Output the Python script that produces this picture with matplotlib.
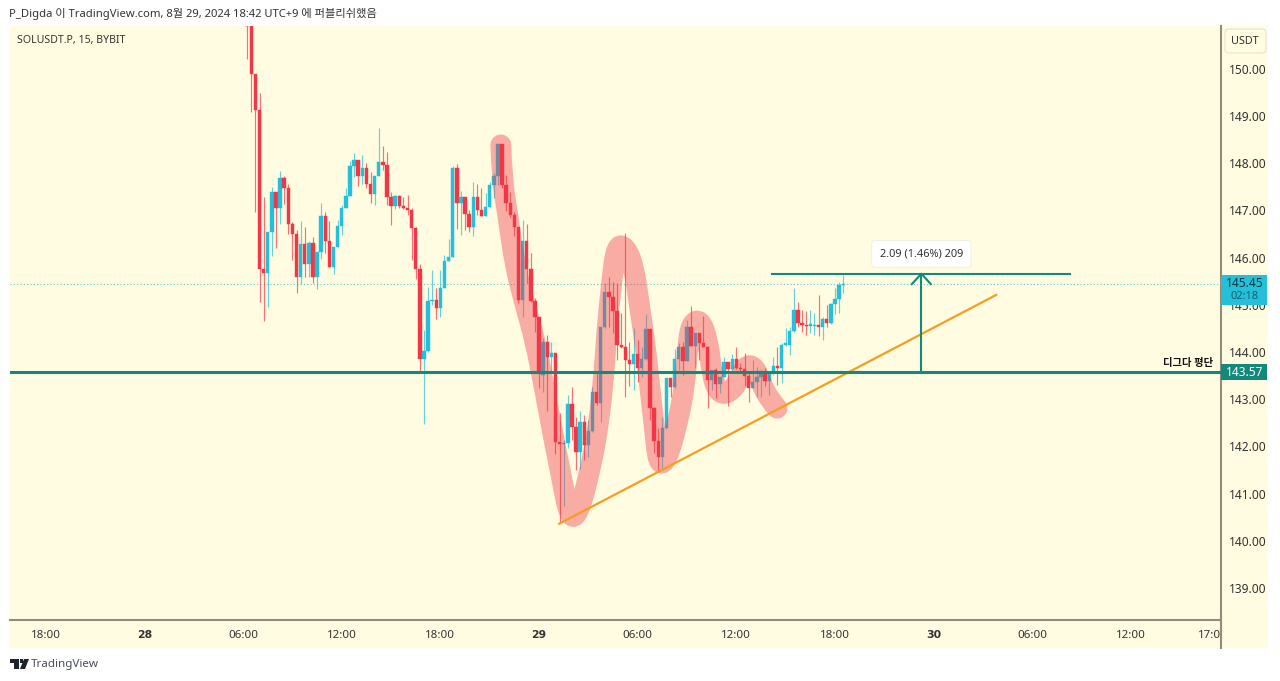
import matplotlib
matplotlib.use("Agg")
import matplotlib.pyplot as plt
from matplotlib.patches import Rectangle, Polygon, FancyBboxPatch, PathPatch
from matplotlib.path import Path
from matplotlib.lines import Line2D
from matplotlib.transforms import Bbox

plt.rcParams['font.family'] = ['Noto Sans', 'Noto Sans CJK KR', 'DejaVu Sans']

# 15 minute bars, bar 0 = 28th 00:00
first_bar = 25
opens = [150.95, 150.90, 149.89, 149.13, 145.76, 145.68, 146.54, 147.39, 147.05, 147.69, 147.47, 146.71, 146.50,
         145.60, 146.28, 145.86, 146.32, 145.60, 146.12, 146.89, 146.36, 145.81, 146.22, 146.67, 147.05, 147.30,
         147.94, 148.07, 147.74, 147.90, 147.56, 147.35, 147.74, 148.03, 147.97, 147.29, 147.09, 147.30, 147.09,
         147.05, 147.02, 146.63, 145.75, 143.85, 144.02, 145.08, 145.11, 144.93, 145.35, 145.93, 146.02, 147.91,
         147.15, 147.28, 146.93, 146.66, 147.28, 147.01, 146.89, 147.08, 147.53, 147.74, 148.40, 147.53, 147.15,
         146.91, 146.64, 145.10, 146.35, 145.76, 145.08, 144.74, 143.51, 144.22, 143.90, 143.98, 142.10, 142.06,
         142.08, 142.89, 142.42, 141.89, 142.51, 142.02, 142.33, 143.16, 142.91, 144.52, 145.28, 145.16, 144.86,
         144.15, 144.11, 143.83, 143.75, 143.96, 143.66, 143.85, 144.48, 142.81, 142.11, 141.77, 142.38, 143.44,
         143.25, 143.85, 144.11, 143.82, 144.52, 144.13, 144.40, 144.20, 144.11, 143.41, 143.61, 143.32, 143.46,
         143.78, 143.63, 143.85, 143.67, 143.63, 143.49, 143.23, 143.36, 143.48, 143.55, 143.39, 143.56, 143.71,
         143.67, 144.15, 144.15, 144.45, 144.89, 144.62, 144.58, 144.56, 144.56, 144.58, 144.52, 144.70, 144.61,
         145.02, 145.13, 145.42]
closes = [150.90, 149.89, 149.13, 145.76, 145.68, 146.54, 147.39, 147.05, 147.69, 147.47, 146.71, 146.50, 145.60,
          146.28, 145.86, 146.32, 145.60, 146.12, 146.89, 146.36, 145.81, 146.22, 146.67, 147.05, 147.30, 147.94,
          148.07, 147.74, 147.90, 147.56, 147.35, 147.74, 148.03, 147.97, 147.29, 147.09, 147.30, 147.09, 147.05,
          147.02, 146.63, 145.75, 143.85, 144.02, 145.08, 145.11, 144.93, 145.35, 145.93, 146.02, 147.91, 147.15,
          147.28, 146.93, 146.66, 147.28, 147.01, 146.89, 147.08, 147.53, 147.74, 148.40, 147.53, 147.15, 146.91,
          146.64, 145.10, 146.35, 145.76, 145.08, 144.74, 143.58, 144.22, 143.90, 143.98, 142.10, 142.06, 142.08,
          142.89, 142.42, 141.89, 142.51, 142.02, 142.33, 143.16, 142.91, 144.52, 145.28, 145.16, 144.86, 144.15,
          144.11, 143.83, 143.75, 143.96, 143.66, 143.85, 144.48, 142.81, 142.11, 141.77, 142.38, 143.44, 143.25,
          143.85, 144.11, 143.82, 144.52, 144.13, 144.40, 144.20, 144.11, 143.41, 143.61, 143.32, 143.46, 143.78,
          143.63, 143.85, 143.67, 143.63, 143.49, 143.23, 143.36, 143.48, 143.60, 143.39, 143.56, 143.71, 143.67,
          144.15, 144.19, 144.45, 144.89, 144.62, 144.58, 144.56, 144.59, 144.58, 144.52, 144.70, 144.61, 145.02,
          145.13, 145.42, 145.45]
highs = [151.20, 151.00, 149.89, 149.48, 147.29, 146.54, 147.49, 147.39, 147.83, 147.73, 147.57, 146.76, 146.58,
         146.77, 146.64, 146.35, 146.44, 146.12, 147.16, 146.96, 146.78, 146.22, 146.80, 147.11, 147.47, 148.05,
         148.21, 148.07, 148.17, 148.00, 147.82, 147.74, 148.74, 148.37, 148.23, 147.40, 147.32, 147.32, 147.29,
         147.32, 147.06, 146.66, 145.86, 144.46, 145.38, 145.74, 145.35, 145.74, 146.06, 146.39, 147.94, 147.99,
         147.42, 147.28, 147.01, 147.61, 147.56, 147.47, 147.36, 147.60, 147.80, 148.40, 148.40, 147.75, 147.40,
         146.96, 146.66, 146.80, 146.71, 146.09, 145.14, 144.74, 144.29, 144.36, 144.22, 143.98, 142.70, 142.14,
         143.09, 143.25, 142.63, 142.74, 142.66, 142.56, 143.26, 143.58, 144.54, 145.46, 145.60, 145.49, 145.46,
         144.82, 146.52, 144.22, 144.50, 144.26, 144.11, 144.80, 144.49, 142.84, 142.38, 142.63, 143.44, 143.44,
         144.06, 144.19, 144.22, 144.68, 144.98, 144.40, 144.40, 144.76, 144.13, 143.61, 143.66, 143.48, 143.90,
         143.78, 143.95, 144.11, 143.76, 143.97, 143.58, 143.83, 143.69, 143.62, 143.66, 143.58, 143.90, 144.11,
         144.19, 144.50, 144.52, 145.35, 145.07, 144.89, 144.86, 144.89, 144.82, 145.21, 144.75, 145.00, 145.03,
         145.35, 145.48, 145.63]
lows = [150.22, 149.08, 146.96, 145.05, 144.65, 144.96, 146.03, 146.20, 146.71, 147.13, 146.50, 145.96, 145.26,
        145.45, 145.59, 145.59, 145.47, 145.33, 145.98, 146.10, 145.81, 145.66, 146.22, 146.48, 147.05, 147.30,
        147.71, 147.52, 147.56, 147.47, 147.16, 147.11, 147.74, 147.86, 147.11, 146.70, 147.04, 147.06, 147.03,
        146.90, 145.95, 145.54, 143.58, 142.48, 144.00, 144.99, 144.71, 144.75, 145.35, 145.93, 146.02, 146.60,
        146.47, 146.59, 146.55, 146.46, 146.91, 146.89, 146.89, 147.08, 147.26, 147.54, 147.47, 146.98, 146.87,
        146.45, 145.03, 144.75, 145.46, 145.07, 144.43, 143.23, 143.16, 142.74, 143.55, 141.83, 140.37, 140.74,
        141.96, 142.14, 141.50, 141.53, 141.71, 141.78, 142.31, 142.87, 142.52, 144.50, 144.54, 144.40, 143.83,
        144.08, 143.05, 143.27, 143.20, 143.36, 143.48, 143.83, 142.56, 141.85, 141.46, 141.50, 142.36, 143.04,
        143.23, 143.62, 143.51, 143.80, 144.12, 143.67, 143.83, 144.11, 142.82, 143.20, 143.02, 143.13, 143.46,
        142.86, 143.62, 143.65, 143.55, 143.27, 142.95, 143.23, 143.05, 143.05, 143.27, 143.09, 143.51, 143.30,
        143.34, 144.13, 143.94, 144.43, 144.54, 144.43, 144.36, 144.40, 144.36, 144.33, 144.26, 144.54, 144.59,
        144.81, 144.82, 145.25]

# pink highlighter stroke over the chart
stroke_bars = [86.7, 87.0, 88.4, 90.1, 92.6, 95.0, 97.4, 99.4, 101.6, 103.0, 104.5, 106.4, 108.4, 110.1, 111.6,
               112.5, 113.7, 114.8, 116.9, 119.0, 120.6, 122.0, 123.0, 124.0, 125.0, 127.1, 129.6, 131.5, 132.2,
               133.0, 135.2, 137.1, 138.1, 139.5, 141.7, 144.4, 146.1, 148.5, 150.2, 152.2, 153.9]
stroke_prices = [148.39, 147.65, 146.91, 145.85, 145.00, 144.26, 143.20, 142.24, 141.29, 140.65, 140.45, 140.80,
                 141.50, 142.24, 143.30, 144.47, 145.53, 146.25, 146.25, 145.85, 144.89, 144.04, 143.20, 142.45,
                 141.60, 141.70, 142.45, 143.30, 144.15, 144.60, 144.70, 144.25, 143.51, 143.15, 143.10, 143.34,
                 143.72, 143.70, 143.30, 142.98, 142.81]

trend_bars = [100.9, 207.2]
trend_prices = [140.36, 145.21]

avg_price = 143.57
last_price = 145.45
target_price = 145.66
measure_bars = [152.7, 225.2]
arrow_bar = 189
head_bars = [186.7, 189, 191.3]
head_prices = [145.44, 145.66, 145.44]

x_ticks = [-24, 0, 24, 48, 72, 96, 120, 144, 168, 192, 216, 240, 260]
x_labels = ['18:00', '28', '06:00', '12:00', '18:00', '29', '06:00', '12:00', '18:00', '30', '06:00', '12:00', '17:00']
y_ticks = [139, 140, 141, 142, 143, 144, 145, 146, 147, 148, 149, 150]

W, H = 1280, 681
BG = '#FFFCE2'
RED = '#F23645'
BLUE = '#26BFD9'
GREEN = '#12897A'
AXIS = '#8F8C7C'
TEXT = '#333333'


def fx(px):
    return px / W


def fy(py):
    return 1 - py / H


fig = plt.figure(figsize=(12.8, 6.81), dpi=100, facecolor='white')
fig.add_artist(Rectangle((fx(10), fy(648)), 1258 / W, 622 / H, transform=fig.transFigure,
                         facecolor=BG, edgecolor='none', zorder=-1))

ax = fig.add_axes([fx(10), fy(620), 1211 / W, 594 / H], facecolor=BG)
ax.set_xlim(-32.7, 261.9)
ax.set_ylim(138.32, 150.91)

# candles
bars = [first_bar + i for i in range(len(opens))]
colors = [BLUE if c >= o else RED for o, c in zip(opens, closes)]
ax.vlines(bars, lows, highs, colors=colors, linewidth=0.85, alpha=0.7, zorder=2)
ax.bar(bars, [abs(c - o) for o, c in zip(opens, closes)], bottom=[min(o, c) for o, c in zip(opens, closes)],
       width=0.82, color=colors, edgecolor=colors, linewidth=0.3, zorder=3)

# last price dotted line
ax.axhline(last_price, color='#5CC9C4', linewidth=0.8, linestyle=(0, (1, 2)), zorder=1)

# highlighter, smoothed through the stroke points with quadratic curves
verts = [(stroke_bars[0], stroke_prices[0])]
codes = [Path.MOVETO]
for i in range(1, len(stroke_bars) - 1):
    end = (stroke_bars[i + 1], stroke_prices[i + 1])
    if i < len(stroke_bars) - 2:
        end = ((stroke_bars[i] + stroke_bars[i + 1]) / 2, (stroke_prices[i] + stroke_prices[i + 1]) / 2)
    verts += [(stroke_bars[i], stroke_prices[i]), end]
    codes += [Path.CURVE3, Path.CURVE3]
ax.add_patch(PathPatch(Path(verts, codes), fill=False, edgecolor=RED, alpha=0.4, linewidth=15, capstyle='round',
                       joinstyle='round', zorder=4))

# drawings
ax.plot(trend_bars, trend_prices, color='#F59F1E', linewidth=1.6, zorder=5)
ax.axhline(avg_price, color=GREEN, linewidth=2.2, zorder=5)
ax.plot(measure_bars, [target_price, target_price], color=GREEN, linewidth=1.5, zorder=5)
ax.plot([arrow_bar, arrow_bar], [avg_price, target_price], color=GREEN, linewidth=1.5, zorder=5)
ax.plot(head_bars, head_prices, color=GREEN, linewidth=1.5, zorder=5)

ax.text(arrow_bar, 146.08, '2.09 (1.46%) 209', ha='center', va='center', fontsize=7.9, color=TEXT, zorder=7,
        bbox=dict(boxstyle='round,pad=0.72,rounding_size=0.3', facecolor='white', edgecolor='#EEEEE4', linewidth=0.6))

# axes
for side in ['top', 'left']:
    ax.spines[side].set_visible(False)
for side in ['right', 'bottom']:
    ax.spines[side].set_color(AXIS)
    ax.spines[side].set_linewidth(1.5)
fig.add_artist(Line2D([fx(1221), fx(1221)], [fy(620), fy(648)], color=AXIS, linewidth=1.5))

ax.yaxis.tick_right()
ax.set_yticks(y_ticks)
ax.set_yticklabels([f'{v:.2f}' for v in y_ticks])
ax.tick_params(axis='y', length=0, pad=6, labelsize=8.6, labelcolor=TEXT)
ax.set_xticks(x_ticks)
ax.set_xticklabels(x_labels)
ax.tick_params(axis='x', length=0, pad=7, labelsize=8.3, labelcolor=TEXT)
for label in ax.get_xticklabels():
    if label.get_text() in ('28', '29', '30'):
        label.set_family('DejaVu Sans')
        label.set_fontweight('bold')
        label.set_fontsize(7.8)
    label.set_clip_box(Bbox([[10, 0], [1220, H]]))
    label.set_clip_on(True)

# price scale tags
ytrans = ax.get_yaxis_transform()
ax.add_patch(Rectangle((1.0, avg_price - 0.17), 46 / 1211, 0.34, transform=ytrans, facecolor=GREEN,
                       edgecolor='none', clip_on=False, zorder=8))
ax.text(1 + 24 / 1211, avg_price, f'{avg_price:.2f}', transform=ytrans, ha='center', va='center', color='white',
        fontsize=8.6, zorder=9, clip_on=False)
ax.add_patch(Rectangle((1.0, 145.0), 46 / 1211, 0.63, transform=ytrans, facecolor=BLUE,
                       edgecolor='none', clip_on=False, zorder=8))
ax.text(1 + 24 / 1211, last_price, f'{last_price:.2f}', transform=ytrans, ha='center', va='center', color='#0E3A44',
        fontsize=8.6, zorder=9, clip_on=False)
ax.text(1 + 24 / 1211, 145.17, '02:18', transform=ytrans, ha='center', va='center', color='#14616F',
        fontsize=8, zorder=9, clip_on=False)
ax.text(0.9934, avg_price + 0.07, '디그다 평단', transform=ytrans, ha='right', va='bottom', color='#111111',
        fontsize=7.4, fontweight='bold', zorder=9)

# texts around the chart
fig.text(fx(9), fy(14), 'P_Digda 이 TradingView.com, 8월 29, 2024 18:42 UTC+9 에 퍼블리쉬했음', ha='left', va='center',
         fontsize=8.1, color=TEXT)
fig.text(fx(17), fy(40), 'SOLUSDT.P, 15, BYBIT', ha='left', va='center', fontsize=7.6, color=TEXT)
fig.add_artist(FancyBboxPatch((fx(1225), fy(53)), 41 / W, 24 / H, transform=fig.transFigure,
                              boxstyle='round,pad=0,rounding_size=0.003', facecolor=BG, edgecolor='#E6E3CC',
                              linewidth=0.8, mutation_aspect=1.88))
fig.text(fx(1245), fy(41), 'USDT', ha='center', va='center', fontsize=7.8, color=TEXT)

# TradingView logo
logo = '#1E222D'
fig.add_artist(Polygon([(fx(10), fy(659)), (fx(19), fy(659)), (fx(19), fy(669)), (fx(14), fy(669)), (fx(14), fy(663)),
                        (fx(10), fy(663))], closed=True, transform=fig.transFigure, facecolor=logo, edgecolor='none'))
fig.add_artist(Polygon([(fx(24), fy(659)), (fx(29), fy(659)), (fx(25), fy(669)), (fx(20), fy(669))], closed=True,
                       transform=fig.transFigure, facecolor=logo, edgecolor='none'))
fig.add_artist(Rectangle((fx(20), fy(663)), 3 / W, 4 / H, transform=fig.transFigure, facecolor=logo, edgecolor='none'))
fig.text(fx(31), fy(664), 'TradingView', ha='left', va='center', fontsize=8.4, color='#4A4E59')

fig.savefig('out.png', dpi=100, facecolor='white')
